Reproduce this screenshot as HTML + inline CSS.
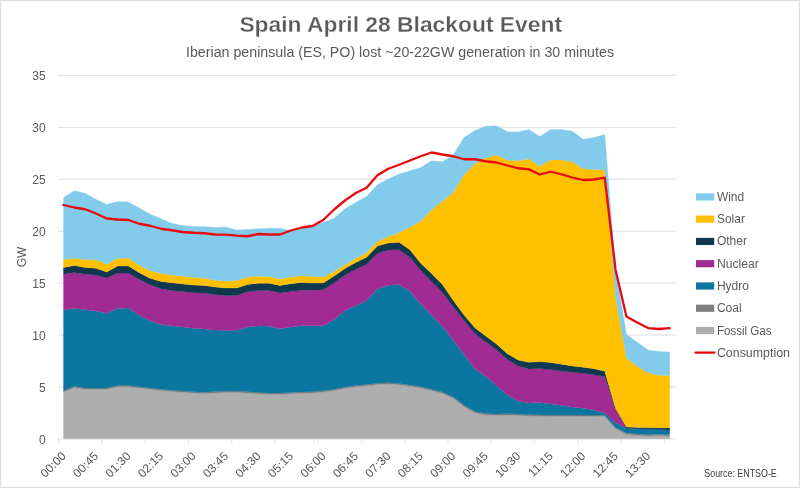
<!DOCTYPE html>
<html><head><meta charset="utf-8"><title>Spain April 28 Blackout Event</title>
<style>html,body{margin:0;padding:0;background:#fff;width:800px;height:488px;overflow:hidden}</style></head>
<body>
<svg width="800" height="488" viewBox="0 0 800 488" style="position:absolute;left:0;top:0">
<rect x="0.6" y="0.6" width="798.8" height="486.8" fill="#fff" stroke="#DEDEDE" stroke-width="1.2"/>
<line x1="57.8" x2="676.3" y1="438.90" y2="438.90" stroke="#D8D8D8" stroke-width="0.85"/>
<line x1="57.8" x2="676.3" y1="386.97" y2="386.97" stroke="#D8D8D8" stroke-width="0.85"/>
<line x1="57.8" x2="676.3" y1="335.04" y2="335.04" stroke="#D8D8D8" stroke-width="0.85"/>
<line x1="57.8" x2="676.3" y1="283.11" y2="283.11" stroke="#D8D8D8" stroke-width="0.85"/>
<line x1="57.8" x2="676.3" y1="231.19" y2="231.19" stroke="#D8D8D8" stroke-width="0.85"/>
<line x1="57.8" x2="676.3" y1="179.26" y2="179.26" stroke="#D8D8D8" stroke-width="0.85"/>
<line x1="57.8" x2="676.3" y1="127.33" y2="127.33" stroke="#D8D8D8" stroke-width="0.85"/>
<line x1="57.8" x2="676.3" y1="75.40" y2="75.40" stroke="#D8D8D8" stroke-width="0.85"/>
<line x1="58.75" x2="58.75" y1="438.75" y2="443.45" stroke="#E4E4E4" stroke-width="1"/>
<line x1="102.00" x2="102.00" y1="438.75" y2="443.45" stroke="#E4E4E4" stroke-width="1"/>
<line x1="145.25" x2="145.25" y1="438.75" y2="443.45" stroke="#E4E4E4" stroke-width="1"/>
<line x1="188.50" x2="188.50" y1="438.75" y2="443.45" stroke="#E4E4E4" stroke-width="1"/>
<line x1="231.75" x2="231.75" y1="438.75" y2="443.45" stroke="#E4E4E4" stroke-width="1"/>
<line x1="275.00" x2="275.00" y1="438.75" y2="443.45" stroke="#E4E4E4" stroke-width="1"/>
<line x1="318.25" x2="318.25" y1="438.75" y2="443.45" stroke="#E4E4E4" stroke-width="1"/>
<line x1="361.50" x2="361.50" y1="438.75" y2="443.45" stroke="#E4E4E4" stroke-width="1"/>
<line x1="404.75" x2="404.75" y1="438.75" y2="443.45" stroke="#E4E4E4" stroke-width="1"/>
<line x1="448.00" x2="448.00" y1="438.75" y2="443.45" stroke="#E4E4E4" stroke-width="1"/>
<line x1="491.25" x2="491.25" y1="438.75" y2="443.45" stroke="#E4E4E4" stroke-width="1"/>
<line x1="534.50" x2="534.50" y1="438.75" y2="443.45" stroke="#E4E4E4" stroke-width="1"/>
<line x1="577.75" x2="577.75" y1="438.75" y2="443.45" stroke="#E4E4E4" stroke-width="1"/>
<line x1="621.00" x2="621.00" y1="438.75" y2="443.45" stroke="#E4E4E4" stroke-width="1"/>
<line x1="664.25" x2="664.25" y1="438.75" y2="443.45" stroke="#E4E4E4" stroke-width="1"/>
<path d="M63.50,392.05 L74.33,387.55 L85.15,389.30 L95.97,389.30 L106.80,389.30 L117.62,386.80 L128.45,386.80 L139.27,388.05 L150.10,389.30 L160.93,390.55 L171.75,391.55 L182.57,392.30 L193.40,393.05 L204.22,393.55 L215.05,392.90 L225.88,392.55 L236.70,392.40 L247.52,393.05 L258.35,393.80 L269.17,394.30 L280.00,394.30 L290.82,393.80 L301.65,393.30 L312.48,393.05 L323.30,392.05 L334.12,390.55 L344.95,388.30 L355.77,386.80 L366.60,385.80 L377.42,384.55 L388.25,384.05 L399.07,384.70 L409.90,386.30 L420.72,388.05 L431.55,390.55 L442.38,393.30 L453.20,398.30 L464.02,406.50 L474.85,412.80 L485.67,414.90 L496.50,415.20 L507.32,415.10 L518.15,415.40 L528.97,415.90 L539.80,416.20 L550.62,416.30 L561.45,416.30 L572.27,416.30 L583.10,416.30 L593.92,416.30 L604.75,416.60 L615.57,428.80 L626.40,434.30 L637.22,435.30 L648.05,435.90 L658.88,435.50 L669.70,435.90 L669.70,438.75 L658.88,438.75 L648.05,438.75 L637.22,438.75 L626.40,438.75 L615.57,438.75 L604.75,438.75 L593.92,438.75 L583.10,438.75 L572.27,438.75 L561.45,438.75 L550.62,438.75 L539.80,438.75 L528.97,438.75 L518.15,438.75 L507.32,438.75 L496.50,438.75 L485.67,438.75 L474.85,438.75 L464.02,438.75 L453.20,438.75 L442.38,438.75 L431.55,438.75 L420.72,438.75 L409.90,438.75 L399.07,438.75 L388.25,438.75 L377.42,438.75 L366.60,438.75 L355.77,438.75 L344.95,438.75 L334.12,438.75 L323.30,438.75 L312.48,438.75 L301.65,438.75 L290.82,438.75 L280.00,438.75 L269.17,438.75 L258.35,438.75 L247.52,438.75 L236.70,438.75 L225.88,438.75 L215.05,438.75 L204.22,438.75 L193.40,438.75 L182.57,438.75 L171.75,438.75 L160.93,438.75 L150.10,438.75 L139.27,438.75 L128.45,438.75 L117.62,438.75 L106.80,438.75 L95.97,438.75 L85.15,438.75 L74.33,438.75 L63.50,438.75Z" fill="#AEAEAE" stroke="#AEAEAE" stroke-width="0.3" stroke-linejoin="round"/>
<path d="M63.50,390.75 L74.33,386.25 L85.15,388.00 L95.97,388.00 L106.80,388.00 L117.62,385.50 L128.45,385.50 L139.27,386.75 L150.10,388.00 L160.93,389.25 L171.75,390.25 L182.57,391.00 L193.40,391.75 L204.22,392.25 L215.05,391.60 L225.88,391.25 L236.70,391.10 L247.52,391.75 L258.35,392.50 L269.17,393.00 L280.00,393.00 L290.82,392.50 L301.65,392.00 L312.48,391.75 L323.30,390.75 L334.12,389.25 L344.95,387.00 L355.77,385.50 L366.60,384.50 L377.42,383.25 L388.25,382.75 L399.07,383.40 L409.90,385.00 L420.72,386.75 L431.55,389.25 L442.38,392.00 L453.20,397.00 L464.02,405.20 L474.85,411.50 L485.67,413.60 L496.50,413.90 L507.32,413.80 L518.15,414.10 L528.97,414.60 L539.80,414.90 L550.62,415.00 L561.45,415.00 L572.27,415.00 L583.10,415.00 L593.92,415.00 L604.75,415.30 L615.57,427.50 L626.40,433.00 L637.22,434.00 L648.05,434.60 L658.88,434.20 L669.70,434.60 L669.70,435.90 L658.88,435.50 L648.05,435.90 L637.22,435.30 L626.40,434.30 L615.57,428.80 L604.75,416.60 L593.92,416.30 L583.10,416.30 L572.27,416.30 L561.45,416.30 L550.62,416.30 L539.80,416.20 L528.97,415.90 L518.15,415.40 L507.32,415.10 L496.50,415.20 L485.67,414.90 L474.85,412.80 L464.02,406.50 L453.20,398.30 L442.38,393.30 L431.55,390.55 L420.72,388.05 L409.90,386.30 L399.07,384.70 L388.25,384.05 L377.42,384.55 L366.60,385.80 L355.77,386.80 L344.95,388.30 L334.12,390.55 L323.30,392.05 L312.48,393.05 L301.65,393.30 L290.82,393.80 L280.00,394.30 L269.17,394.30 L258.35,393.80 L247.52,393.05 L236.70,392.40 L225.88,392.55 L215.05,392.90 L204.22,393.55 L193.40,393.05 L182.57,392.30 L171.75,391.55 L160.93,390.55 L150.10,389.30 L139.27,388.05 L128.45,386.80 L117.62,386.80 L106.80,389.30 L95.97,389.30 L85.15,389.30 L74.33,387.55 L63.50,392.05Z" fill="#7F7F7F" stroke="#7F7F7F" stroke-width="0.3" stroke-linejoin="round"/>
<path d="M63.50,310.00 L74.33,308.20 L85.15,309.70 L95.97,311.00 L106.80,313.25 L117.62,308.20 L128.45,308.00 L139.27,315.20 L150.10,320.75 L160.93,324.50 L171.75,325.75 L182.57,327.00 L193.40,328.25 L204.22,329.00 L215.05,330.10 L225.88,330.60 L236.70,330.25 L247.52,327.00 L258.35,325.75 L269.17,326.25 L280.00,328.75 L290.82,327.00 L301.65,325.75 L312.48,325.75 L323.30,325.75 L334.12,319.50 L344.95,310.50 L355.77,305.75 L366.60,300.50 L377.42,289.00 L388.25,285.25 L399.07,284.50 L409.90,291.25 L420.72,303.75 L431.55,315.25 L442.38,326.25 L453.20,340.00 L464.02,354.25 L474.85,368.75 L485.67,376.25 L496.50,385.55 L507.32,394.80 L518.15,401.10 L528.97,403.10 L539.80,402.60 L550.62,404.00 L561.45,405.25 L572.27,407.00 L583.10,408.20 L593.92,410.00 L604.75,412.90 L615.57,423.00 L626.40,428.00 L637.22,428.50 L648.05,428.80 L658.88,429.00 L669.70,430.20 L669.70,434.60 L658.88,434.20 L648.05,434.60 L637.22,434.00 L626.40,433.00 L615.57,427.50 L604.75,415.30 L593.92,415.00 L583.10,415.00 L572.27,415.00 L561.45,415.00 L550.62,415.00 L539.80,414.90 L528.97,414.60 L518.15,414.10 L507.32,413.80 L496.50,413.90 L485.67,413.60 L474.85,411.50 L464.02,405.20 L453.20,397.00 L442.38,392.00 L431.55,389.25 L420.72,386.75 L409.90,385.00 L399.07,383.40 L388.25,382.75 L377.42,383.25 L366.60,384.50 L355.77,385.50 L344.95,387.00 L334.12,389.25 L323.30,390.75 L312.48,391.75 L301.65,392.00 L290.82,392.50 L280.00,393.00 L269.17,393.00 L258.35,392.50 L247.52,391.75 L236.70,391.10 L225.88,391.25 L215.05,391.60 L204.22,392.25 L193.40,391.75 L182.57,391.00 L171.75,390.25 L160.93,389.25 L150.10,388.00 L139.27,386.75 L128.45,385.50 L117.62,385.50 L106.80,388.00 L95.97,388.00 L85.15,388.00 L74.33,386.25 L63.50,390.75Z" fill="#0B769F" stroke="#0B769F" stroke-width="0.3" stroke-linejoin="round"/>
<path d="M63.50,274.25 L74.33,272.50 L85.15,274.25 L95.97,275.00 L106.80,278.00 L117.62,273.00 L128.45,273.00 L139.27,279.50 L150.10,284.75 L160.93,288.65 L171.75,290.40 L182.57,291.50 L193.40,292.70 L204.22,292.90 L215.05,294.65 L225.88,295.40 L236.70,295.40 L247.52,291.65 L258.35,290.40 L269.17,290.40 L280.00,292.90 L290.82,291.40 L301.65,290.15 L312.48,290.15 L323.30,289.65 L334.12,282.75 L344.95,275.25 L355.77,269.25 L366.60,264.30 L377.42,253.50 L388.25,250.00 L399.07,249.75 L409.90,257.25 L420.72,270.40 L431.55,281.60 L442.38,292.20 L453.20,306.80 L464.02,320.50 L474.85,333.50 L485.67,341.75 L496.50,349.75 L507.32,359.50 L518.15,366.10 L528.97,368.90 L539.80,368.40 L550.62,369.60 L561.45,371.10 L572.27,372.25 L583.10,373.30 L593.92,374.80 L604.75,376.50 L615.57,409.20 L626.40,428.00 L637.22,428.50 L648.05,428.80 L658.88,429.00 L669.70,430.20 L669.70,430.20 L658.88,429.00 L648.05,428.80 L637.22,428.50 L626.40,428.00 L615.57,423.00 L604.75,412.90 L593.92,410.00 L583.10,408.20 L572.27,407.00 L561.45,405.25 L550.62,404.00 L539.80,402.60 L528.97,403.10 L518.15,401.10 L507.32,394.80 L496.50,385.55 L485.67,376.25 L474.85,368.75 L464.02,354.25 L453.20,340.00 L442.38,326.25 L431.55,315.25 L420.72,303.75 L409.90,291.25 L399.07,284.50 L388.25,285.25 L377.42,289.00 L366.60,300.50 L355.77,305.75 L344.95,310.50 L334.12,319.50 L323.30,325.75 L312.48,325.75 L301.65,325.75 L290.82,327.00 L280.00,328.75 L269.17,326.25 L258.35,325.75 L247.52,327.00 L236.70,330.25 L225.88,330.60 L215.05,330.10 L204.22,329.00 L193.40,328.25 L182.57,327.00 L171.75,325.75 L160.93,324.50 L150.10,320.75 L139.27,315.20 L128.45,308.00 L117.62,308.20 L106.80,313.25 L95.97,311.00 L85.15,309.70 L74.33,308.20 L63.50,310.00Z" fill="#A02B93" stroke="#A02B93" stroke-width="0.3" stroke-linejoin="round"/>
<path d="M63.50,267.50 L74.33,265.50 L85.15,267.50 L95.97,268.25 L106.80,272.00 L117.62,266.00 L128.45,266.00 L139.27,272.75 L150.10,278.30 L160.93,281.50 L171.75,282.80 L182.57,283.90 L193.40,285.10 L204.22,285.50 L215.05,287.00 L225.88,288.00 L236.70,288.00 L247.52,284.50 L258.35,283.25 L269.17,283.25 L280.00,285.50 L290.82,283.75 L301.65,282.50 L312.48,283.00 L323.30,283.00 L334.12,276.00 L344.95,268.60 L355.77,262.50 L366.60,257.25 L377.42,246.00 L388.25,243.00 L399.07,242.25 L409.90,249.75 L420.72,263.20 L431.55,273.60 L442.38,284.50 L453.20,300.30 L464.02,314.95 L474.85,327.70 L485.67,335.95 L496.50,343.95 L507.32,353.70 L518.15,359.95 L528.97,362.30 L539.80,361.60 L550.62,362.55 L561.45,364.20 L572.27,365.90 L583.10,367.20 L593.92,368.70 L604.75,371.20 L615.57,408.60 L626.40,426.90 L637.22,427.40 L648.05,427.60 L658.88,427.70 L669.70,427.70 L669.70,430.20 L658.88,429.00 L648.05,428.80 L637.22,428.50 L626.40,428.00 L615.57,409.20 L604.75,376.50 L593.92,374.80 L583.10,373.30 L572.27,372.25 L561.45,371.10 L550.62,369.60 L539.80,368.40 L528.97,368.90 L518.15,366.10 L507.32,359.50 L496.50,349.75 L485.67,341.75 L474.85,333.50 L464.02,320.50 L453.20,306.80 L442.38,292.20 L431.55,281.60 L420.72,270.40 L409.90,257.25 L399.07,249.75 L388.25,250.00 L377.42,253.50 L366.60,264.30 L355.77,269.25 L344.95,275.25 L334.12,282.75 L323.30,289.65 L312.48,290.15 L301.65,290.15 L290.82,291.40 L280.00,292.90 L269.17,290.40 L258.35,290.40 L247.52,291.65 L236.70,295.40 L225.88,295.40 L215.05,294.65 L204.22,292.90 L193.40,292.70 L182.57,291.50 L171.75,290.40 L160.93,288.65 L150.10,284.75 L139.27,279.50 L128.45,273.00 L117.62,273.00 L106.80,278.00 L95.97,275.00 L85.15,274.25 L74.33,272.50 L63.50,274.25Z" fill="#10384F" stroke="#10384F" stroke-width="0.3" stroke-linejoin="round"/>
<path d="M63.50,259.50 L74.33,258.20 L85.15,259.50 L95.97,260.00 L106.80,264.20 L117.62,258.20 L128.45,258.20 L139.27,265.25 L150.10,270.80 L160.93,273.20 L171.75,274.90 L182.57,276.00 L193.40,277.40 L204.22,278.15 L215.05,280.15 L225.88,281.15 L236.70,280.60 L247.52,276.90 L258.35,276.15 L269.17,276.40 L280.00,278.90 L290.82,276.90 L301.65,275.65 L312.48,276.40 L323.30,276.90 L334.12,271.50 L344.95,264.75 L355.77,258.30 L366.60,252.75 L377.42,241.50 L388.25,236.70 L399.07,232.50 L409.90,227.25 L420.72,221.25 L431.55,210.00 L442.38,201.25 L453.20,192.50 L464.02,175.00 L474.85,163.75 L485.67,158.00 L496.50,155.00 L507.32,160.00 L518.15,160.75 L528.97,159.00 L539.80,166.25 L550.62,160.00 L561.45,160.00 L572.27,161.75 L583.10,168.75 L593.92,169.50 L604.75,170.00 L615.57,297.50 L626.40,358.00 L637.22,366.25 L648.05,373.10 L658.88,375.25 L669.70,375.60 L669.70,427.70 L658.88,427.70 L648.05,427.60 L637.22,427.40 L626.40,426.90 L615.57,408.60 L604.75,371.20 L593.92,368.70 L583.10,367.20 L572.27,365.90 L561.45,364.20 L550.62,362.55 L539.80,361.60 L528.97,362.30 L518.15,359.95 L507.32,353.70 L496.50,343.95 L485.67,335.95 L474.85,327.70 L464.02,314.95 L453.20,300.30 L442.38,284.50 L431.55,273.60 L420.72,263.20 L409.90,249.75 L399.07,242.25 L388.25,243.00 L377.42,246.00 L366.60,257.25 L355.77,262.50 L344.95,268.60 L334.12,276.00 L323.30,283.00 L312.48,283.00 L301.65,282.50 L290.82,283.75 L280.00,285.50 L269.17,283.25 L258.35,283.25 L247.52,284.50 L236.70,288.00 L225.88,288.00 L215.05,287.00 L204.22,285.50 L193.40,285.10 L182.57,283.90 L171.75,282.80 L160.93,281.50 L150.10,278.30 L139.27,272.75 L128.45,266.00 L117.62,266.00 L106.80,272.00 L95.97,268.25 L85.15,267.50 L74.33,265.50 L63.50,267.50Z" fill="#FFC000" stroke="#FFC000" stroke-width="0.3" stroke-linejoin="round"/>
<path d="M63.50,197.50 L74.33,190.75 L85.15,193.25 L95.97,199.25 L106.80,204.50 L117.62,201.50 L128.45,202.00 L139.27,208.00 L150.10,214.00 L160.93,218.75 L171.75,223.25 L182.57,225.50 L193.40,226.50 L204.22,226.40 L215.05,227.50 L225.88,227.00 L236.70,230.00 L247.52,229.50 L258.35,228.75 L269.17,228.25 L280.00,228.25 L290.82,230.75 L301.65,228.00 L312.48,226.25 L323.30,222.50 L334.12,218.25 L344.95,208.75 L355.77,202.50 L366.60,196.25 L377.42,184.75 L388.25,179.00 L399.07,174.00 L409.90,170.75 L420.72,167.50 L431.55,160.75 L442.38,161.75 L453.20,155.00 L464.02,137.50 L474.85,130.50 L485.67,126.25 L496.50,125.75 L507.32,131.75 L518.15,132.00 L528.97,129.50 L539.80,136.60 L550.62,129.50 L561.45,129.50 L572.27,131.25 L583.10,139.25 L593.92,137.50 L604.75,134.50 L615.57,270.00 L626.40,334.30 L637.22,342.20 L648.05,350.00 L658.88,351.50 L669.70,352.00 L669.70,375.60 L658.88,375.25 L648.05,373.10 L637.22,366.25 L626.40,358.00 L615.57,297.50 L604.75,170.00 L593.92,169.50 L583.10,168.75 L572.27,161.75 L561.45,160.00 L550.62,160.00 L539.80,166.25 L528.97,159.00 L518.15,160.75 L507.32,160.00 L496.50,155.00 L485.67,158.00 L474.85,163.75 L464.02,175.00 L453.20,192.50 L442.38,201.25 L431.55,210.00 L420.72,221.25 L409.90,227.25 L399.07,232.50 L388.25,236.70 L377.42,241.50 L366.60,252.75 L355.77,258.30 L344.95,264.75 L334.12,271.50 L323.30,276.90 L312.48,276.40 L301.65,275.65 L290.82,276.90 L280.00,278.90 L269.17,276.40 L258.35,276.15 L247.52,276.90 L236.70,280.60 L225.88,281.15 L215.05,280.15 L204.22,278.15 L193.40,277.40 L182.57,276.00 L171.75,274.90 L160.93,273.20 L150.10,270.80 L139.27,265.25 L128.45,258.20 L117.62,258.20 L106.80,264.20 L95.97,260.00 L85.15,259.50 L74.33,258.20 L63.50,259.50Z" fill="#83CBEB" stroke="#83CBEB" stroke-width="0.3" stroke-linejoin="round"/>
<polyline points="63.50,205.00 74.33,207.50 85.15,209.25 95.97,213.50 106.80,218.50 117.62,219.50 128.45,220.00 139.27,223.75 150.10,225.75 160.93,228.75 171.75,230.25 182.57,232.00 193.40,232.75 204.22,233.25 215.05,234.50 225.88,234.60 236.70,235.60 247.52,236.25 258.35,234.00 269.17,234.50 280.00,234.50 290.82,230.50 301.65,227.50 312.48,226.00 323.30,220.00 334.12,209.50 344.95,200.50 355.77,193.00 366.60,187.75 377.42,175.25 388.25,168.75 399.07,164.75 409.90,160.50 420.72,156.25 431.55,152.50 442.38,154.50 453.20,156.25 464.02,159.25 474.85,159.25 485.67,161.25 496.50,162.50 507.32,165.50 518.15,168.25 528.97,169.40 539.80,174.50 550.62,171.75 561.45,174.25 572.27,177.50 583.10,180.00 593.92,179.50 604.75,177.70 615.57,270.00 626.40,316.50 637.22,322.50 648.05,328.10 658.88,329.00 669.70,328.10" fill="none" stroke="#E8090D" stroke-width="2.3" stroke-linejoin="round" stroke-linecap="round"/>
<text x="45.6" y="443.75" font-size="12" text-anchor="end" font-family="Liberation Sans, Arial, sans-serif" fill="#595959">0</text>
<text x="45.6" y="391.82" font-size="12" text-anchor="end" font-family="Liberation Sans, Arial, sans-serif" fill="#595959">5</text>
<text x="45.6" y="339.89" font-size="12" text-anchor="end" font-family="Liberation Sans, Arial, sans-serif" fill="#595959">10</text>
<text x="45.6" y="287.96" font-size="12" text-anchor="end" font-family="Liberation Sans, Arial, sans-serif" fill="#595959">15</text>
<text x="45.6" y="236.04" font-size="12" text-anchor="end" font-family="Liberation Sans, Arial, sans-serif" fill="#595959">20</text>
<text x="45.6" y="184.11" font-size="12" text-anchor="end" font-family="Liberation Sans, Arial, sans-serif" fill="#595959">25</text>
<text x="45.6" y="132.18" font-size="12" text-anchor="end" font-family="Liberation Sans, Arial, sans-serif" fill="#595959">30</text>
<text x="45.6" y="80.25" font-size="12" text-anchor="end" font-family="Liberation Sans, Arial, sans-serif" fill="#595959">35</text>
<text transform="translate(26.2,257) rotate(-90)" font-size="12" text-anchor="middle" font-family="Liberation Sans, Arial, sans-serif" fill="#595959">GW</text>
<text transform="translate(66.60,456.9) rotate(-45)" font-size="12" text-anchor="end" font-family="Liberation Sans, Arial, sans-serif" fill="#595959">00:00</text>
<text transform="translate(99.07,456.9) rotate(-45)" font-size="12" text-anchor="end" font-family="Liberation Sans, Arial, sans-serif" fill="#595959">00:45</text>
<text transform="translate(131.55,456.9) rotate(-45)" font-size="12" text-anchor="end" font-family="Liberation Sans, Arial, sans-serif" fill="#595959">01:30</text>
<text transform="translate(164.03,456.9) rotate(-45)" font-size="12" text-anchor="end" font-family="Liberation Sans, Arial, sans-serif" fill="#595959">02:15</text>
<text transform="translate(196.50,456.9) rotate(-45)" font-size="12" text-anchor="end" font-family="Liberation Sans, Arial, sans-serif" fill="#595959">03:00</text>
<text transform="translate(228.97,456.9) rotate(-45)" font-size="12" text-anchor="end" font-family="Liberation Sans, Arial, sans-serif" fill="#595959">03:45</text>
<text transform="translate(261.45,456.9) rotate(-45)" font-size="12" text-anchor="end" font-family="Liberation Sans, Arial, sans-serif" fill="#595959">04:30</text>
<text transform="translate(293.93,456.9) rotate(-45)" font-size="12" text-anchor="end" font-family="Liberation Sans, Arial, sans-serif" fill="#595959">05:15</text>
<text transform="translate(326.40,456.9) rotate(-45)" font-size="12" text-anchor="end" font-family="Liberation Sans, Arial, sans-serif" fill="#595959">06:00</text>
<text transform="translate(358.88,456.9) rotate(-45)" font-size="12" text-anchor="end" font-family="Liberation Sans, Arial, sans-serif" fill="#595959">06:45</text>
<text transform="translate(391.35,456.9) rotate(-45)" font-size="12" text-anchor="end" font-family="Liberation Sans, Arial, sans-serif" fill="#595959">07:30</text>
<text transform="translate(423.82,456.9) rotate(-45)" font-size="12" text-anchor="end" font-family="Liberation Sans, Arial, sans-serif" fill="#595959">08:15</text>
<text transform="translate(456.30,456.9) rotate(-45)" font-size="12" text-anchor="end" font-family="Liberation Sans, Arial, sans-serif" fill="#595959">09:00</text>
<text transform="translate(488.77,456.9) rotate(-45)" font-size="12" text-anchor="end" font-family="Liberation Sans, Arial, sans-serif" fill="#595959">09:45</text>
<text transform="translate(521.25,456.9) rotate(-45)" font-size="12" text-anchor="end" font-family="Liberation Sans, Arial, sans-serif" fill="#595959">10:30</text>
<text transform="translate(553.73,456.9) rotate(-45)" font-size="12" text-anchor="end" font-family="Liberation Sans, Arial, sans-serif" fill="#595959">11:15</text>
<text transform="translate(586.20,456.9) rotate(-45)" font-size="12" text-anchor="end" font-family="Liberation Sans, Arial, sans-serif" fill="#595959">12:00</text>
<text transform="translate(618.67,456.9) rotate(-45)" font-size="12" text-anchor="end" font-family="Liberation Sans, Arial, sans-serif" fill="#595959">12:45</text>
<text transform="translate(651.15,456.9) rotate(-45)" font-size="12" text-anchor="end" font-family="Liberation Sans, Arial, sans-serif" fill="#595959">13:30</text>
<text x="239.4" y="32.4" font-size="22" font-weight="bold" textLength="322.6" lengthAdjust="spacingAndGlyphs" stroke="#fff" stroke-width="0.28" font-family="Liberation Sans, Arial, sans-serif" fill="#595959">Spain April 28 Blackout Event</text>
<text x="186" y="57" font-size="14.7" textLength="428" lengthAdjust="spacingAndGlyphs" font-family="Liberation Sans, Arial, sans-serif" fill="#595959">Iberian peninsula (ES, PO) lost ~20-22GW generation in 30 minutes</text>
<rect x="696" y="193.30" width="18.2" height="7.2" fill="#83CBEB"/>
<text x="716.9" y="200.90" font-size="12" textLength="27.2" lengthAdjust="spacingAndGlyphs" font-family="Liberation Sans, Arial, sans-serif" fill="#595959">Wind</text>
<rect x="696" y="215.57" width="18.2" height="7.2" fill="#FFC000"/>
<text x="716.9" y="223.17" font-size="12" font-family="Liberation Sans, Arial, sans-serif" fill="#595959">Solar</text>
<rect x="696" y="237.84" width="18.2" height="7.2" fill="#10384F"/>
<text x="716.9" y="245.44" font-size="12" font-family="Liberation Sans, Arial, sans-serif" fill="#595959">Other</text>
<rect x="696" y="260.11" width="18.2" height="7.2" fill="#A02B93"/>
<text x="716.9" y="267.71" font-size="12" textLength="42" lengthAdjust="spacingAndGlyphs" font-family="Liberation Sans, Arial, sans-serif" fill="#595959">Nuclear</text>
<rect x="696" y="282.38" width="18.2" height="7.2" fill="#0B769F"/>
<text x="716.9" y="289.98" font-size="12" font-family="Liberation Sans, Arial, sans-serif" fill="#595959">Hydro</text>
<rect x="696" y="304.65" width="18.2" height="7.2" fill="#7F7F7F"/>
<text x="716.9" y="312.25" font-size="12" font-family="Liberation Sans, Arial, sans-serif" fill="#595959">Coal</text>
<rect x="696" y="326.92" width="18.2" height="7.2" fill="#AEAEAE"/>
<text x="716.9" y="334.52" font-size="12" textLength="54.7" lengthAdjust="spacingAndGlyphs" font-family="Liberation Sans, Arial, sans-serif" fill="#595959">Fossil Gas</text>
<line x1="695.5" x2="714.5" y1="352.6" y2="352.6" stroke="#E8090D" stroke-width="2.3" stroke-linecap="round"/>
<text x="716.9" y="356.60" font-size="12" textLength="73.1" lengthAdjust="spacingAndGlyphs" font-family="Liberation Sans, Arial, sans-serif" fill="#595959">Consumption</text>
<text x="704.3" y="476.6" font-size="10" textLength="72.5" lengthAdjust="spacingAndGlyphs" font-family="Liberation Sans, Arial, sans-serif" fill="#404040">Source: ENTSO-E</text>
</svg>
</body></html>
